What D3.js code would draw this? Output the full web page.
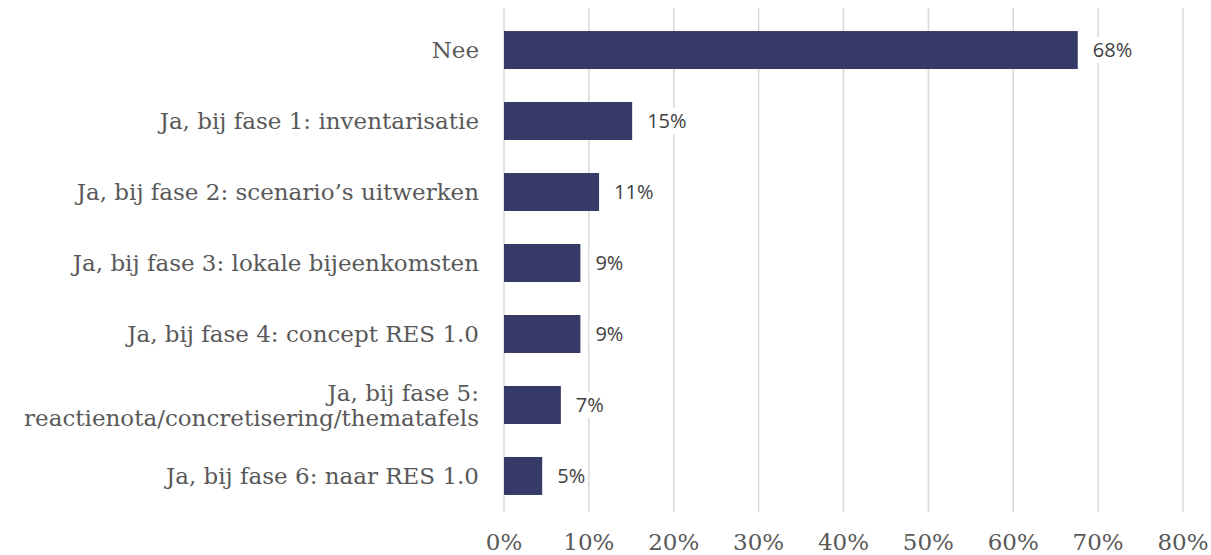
<!DOCTYPE html>
<html>
<head>
<meta charset="utf-8">
<script src="https://cdn.jsdelivr.net/npm/d3@7"></script>
<style>
  body { margin: 0; background: #fff; }
  svg { display: block; }
</style>
</head>
<body>
<div id="chart"></div>
<script>
var width = 1211;
var height = 555;

var categories = [
    ["Nee"],
    ["Ja, bij fase 1: inventarisatie"],
    ["Ja, bij fase 2: scenario\u2019s uitwerken"],
    ["Ja, bij fase 3: lokale bijeenkomsten"],
    ["Ja, bij fase 4: concept RES 1.0"],
    ["Ja, bij fase 5:", "reactienota/concretisering/thematafels"],
    ["Ja, bij fase 6: naar RES 1.0"]
];
var values = [0.676, 0.151, 0.112, 0.09, 0.09, 0.067, 0.045];
var valueLabels = ["68%", "15%", "11%", "9%", "9%", "7%", "5%"];
var ticks = [0, 0.1, 0.2, 0.3, 0.4, 0.5, 0.6, 0.7, 0.8];

var svg = d3.select('#chart').append('svg')
    .attr('width', width)
    .attr('height', height);

var x = d3.scaleLinear().domain([0, 0.8]).range([504, 1183]);
var y = d3.scaleBand().domain(d3.range(categories.length)).range([14, 512]).paddingInner(0.465).paddingOuter(0.24);

// gridlines
svg.append('g').selectAll('line')
    .data(ticks)
    .enter().append('line')
    .attr('x1', function(d) { return x(d); })
    .attr('x2', function(d) { return x(d); })
    .attr('y1', 8)
    .attr('y2', 512)
    .attr('stroke', '#d9d9d9')
    .attr('stroke-width', 1.5);

// tick labels
svg.append('g').selectAll('text')
    .data(ticks)
    .enter().append('text')
    .attr('x', function(d) { return x(d); })
    .attr('y', 550)
    .attr('text-anchor', 'middle')
    .attr('font-family', 'DejaVu Serif')
    .attr('font-size', 23)
    .attr('fill', '#595959')
    .text(function(d) { return Math.round(d * 100) + '%'; });

// bars
svg.append('g').selectAll('rect')
    .data(values)
    .enter().append('rect')
    .attr('x', x(0))
    .attr('y', function(d, i) { return y(i); })
    .attr('width', function(d) { return x(d) - x(0); })
    .attr('height', y.bandwidth())
    .attr('fill', '#363a66');

// value labels with white background
var vl = svg.append('g').selectAll('g')
    .data(values)
    .enter().append('g')
    .attr('transform', function(d, i) { return 'translate(' + (x(d) + 9) + ',' + (y(i) + y.bandwidth() / 2) + ')'; });

vl.append('rect')
    .attr('x', 0)
    .attr('y', -13)
    .attr('width', function(d, i) { return valueLabels[i].length * 13 + 10; })
    .attr('height', 26)
    .attr('fill', '#fff');

vl.append('text')
    .attr('x', 6)
    .attr('dy', '0.36em')
    .attr('font-family', 'Open Sans')
    .attr('font-size', 20)
    .attr('fill', '#404040')
    .text(function(d, i) { return valueLabels[i]; });

// category labels
var cl = svg.append('g').selectAll('text')
    .data(categories)
    .enter().append('text')
    .attr('x', 479)
    .attr('y', function(d, i) { return y(i) + y.bandwidth() / 2; })
    .attr('text-anchor', 'end')
    .attr('font-family', 'DejaVu Serif')
    .attr('font-size', 23)
    .attr('fill', '#595959');

cl.selectAll('tspan')
    .data(function(d) { return d.map(function(t, j) { return {t: t, j: j, n: d.length}; }); })
    .enter().append('tspan')
    .attr('x', 479)
    .attr('dy', function(d) { return d.j === 0 ? (0.36 - (d.n - 1) * 0.55) + 'em' : '1.1em'; })
    .text(function(d) { return d.t; });
</script>
</body>
</html>
